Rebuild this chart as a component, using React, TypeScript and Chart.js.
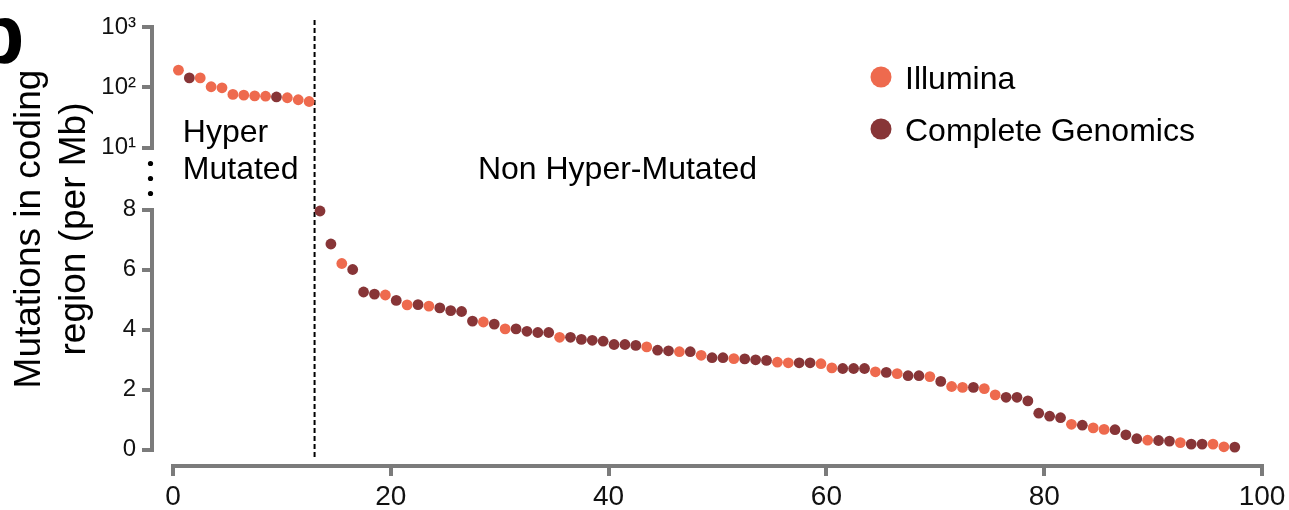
import React, { useEffect, useRef } from 'react';
import { Chart, registerables } from 'chart.js';

Chart.register(...registerables);

const FONT = "'Liberation Sans', Arial, Helvetica, sans-serif";
const ILLUMINA_COLOR = '#EE6A4E';
const CG_COLOR = '#873537';
const AXIS_COLOR = '#7b7b7b';
const TEXT_COLOR = '#111111';

// Series
const seriesLabels = ['Illumina', 'Complete Genomics'];
const platformCodes = ['I', 'C'];

// Hyper-mutated samples (ranks 1–13), plotted on the log segment
const hyperValues = [192, 143, 143, 102, 98, 76, 74, 72, 71, 69, 67, 62, 58];
const hyperPlatforms = ['I', 'C', 'I', 'I', 'I', 'I', 'I', 'I', 'I', 'C', 'I', 'I', 'I'];

// Non hyper-mutated samples (ranks 14–98), plotted on the linear segment
const nonHyperValues = [
  7.95, 6.85, 6.2, 6.0, 5.25, 5.18, 5.15, 4.97, 4.82, 4.83,
  4.78, 4.72, 4.63, 4.6, 4.28, 4.25, 4.18, 4.02, 4.02, 3.94,
  3.9, 3.9, 3.74, 3.74, 3.67, 3.64, 3.61, 3.5, 3.5, 3.47,
  3.42, 3.31, 3.29, 3.26, 3.26, 3.14, 3.06, 3.06, 3.03, 3.02,
  2.99, 2.97, 2.91, 2.89, 2.89, 2.89, 2.86, 2.72, 2.7, 2.7,
  2.7, 2.59, 2.57, 2.53, 2.46, 2.46, 2.43, 2.27, 2.1, 2.07,
  2.07, 2.03, 1.82, 1.74, 1.74, 1.62, 1.21, 1.11, 1.06, 0.84,
  0.81, 0.72, 0.67, 0.66, 0.49, 0.36, 0.31, 0.3, 0.28, 0.23,
  0.18, 0.18, 0.18, 0.09, 0.08,
];
const nonHyperPlatforms = [
  'C', 'C', 'I', 'C', 'C', 'C', 'I', 'C', 'I', 'C',
  'I', 'C', 'C', 'C', 'C', 'I', 'C', 'I', 'C', 'C',
  'C', 'C', 'I', 'C', 'C', 'C', 'C', 'C', 'C', 'C',
  'I', 'C', 'C', 'I', 'C', 'I', 'C', 'C', 'I', 'C',
  'C', 'C', 'I', 'I', 'C', 'C', 'I', 'I', 'C', 'C',
  'C', 'I', 'C', 'I', 'C', 'C', 'I', 'C', 'I', 'I',
  'C', 'I', 'I', 'C', 'C', 'C', 'C', 'C', 'C', 'I',
  'C', 'I', 'I', 'C', 'C', 'C', 'I', 'C', 'C', 'I',
  'C', 'C', 'I', 'I', 'C',
];

// Axes
const xTickValues = [0, 20, 40, 60, 80, 100];
const yLinTickValues = [0, 2, 4, 6, 8];
const yLogTickValues = [10, 100, 1000];
const yLogTickLabels = ['10¹', '10²', '10³'];
const yTitleLines = ['Mutations in coding', 'region (per Mb)'];
const hyperLabelLines = ['Hyper', 'Mutated'];
const nonHyperLabel = 'Non Hyper-Mutated';
const panelLetter = 'b';
const hyperBoundary = 13;

function points(values: number[], platforms: string[], rankOffset: number, code: string) {
  const out: { x: number; y: number }[] = [];
  values.forEach((v, i) => {
    if (platforms[i] === code) out.push({ x: rankOffset + i + 0.5, y: v });
  });
  return out;
}

const colors = [ILLUMINA_COLOR, CG_COLOR];

const overlayPlugin = {
  id: 'overlay',
  beforeDatasetsDraw(chart: any) {
    const ctx = chart.ctx;
    const xs = chart.scales.x;
    const yLog = chart.scales.yLog;
    const yLin = chart.scales.yLin;
    const bx = xs.getPixelForValue(hyperBoundary);
    ctx.save();
    ctx.strokeStyle = '#000';
    ctx.lineWidth = 2;
    ctx.setLineDash([5, 3]);
    ctx.beginPath();
    ctx.moveTo(bx, yLog.top - 7);
    ctx.lineTo(bx, yLin.bottom + 8);
    ctx.stroke();
    ctx.restore();
  },
  afterDraw(chart: any) {
    const ctx = chart.ctx;
    const xs = chart.scales.x;
    const yGap = chart.scales.yGap;
    const area = chart.chartArea;
    ctx.save();
    ctx.fillStyle = '#000';
    // axis break dots
    const cy = (yGap.top + yGap.bottom) / 2;
    [-15, 0, 15].forEach((d) => {
      ctx.beginPath();
      ctx.arc(area.left - 1.5, cy + d, 2.6, 0, Math.PI * 2);
      ctx.fill();
    });
    // region labels
    ctx.font = `32px ${FONT}`;
    ctx.textAlign = 'left';
    ctx.textBaseline = 'alphabetic';
    ctx.fillText(hyperLabelLines[0], xs.getPixelForValue(0.9), 142);
    ctx.fillText(hyperLabelLines[1], xs.getPixelForValue(0.9), 179);
    ctx.fillText(nonHyperLabel, xs.getPixelForValue(28), 179);
    // y title
    ctx.font = `37px ${FONT}`;
    ctx.textAlign = 'center';
    [40, 85].forEach((bx: number, i: number) => {
      ctx.save();
      ctx.translate(bx, 229);
      ctx.rotate(-Math.PI / 2);
      ctx.fillText(yTitleLines[i], 0, 0);
      ctx.restore();
    });
    // legend
    ctx.font = `32px ${FONT}`;
    ctx.textAlign = 'left';
    seriesLabels.forEach((lab, i) => {
      const y = 77 + i * 52;
      ctx.fillStyle = colors[i];
      ctx.beginPath();
      ctx.arc(881, y, 10.5, 0, Math.PI * 2);
      ctx.fill();
      ctx.fillStyle = '#000';
      ctx.fillText(lab, 905, y + 11.5);
    });
    // panel letter (cut off at the left edge)
    ctx.font = `bold 83px ${FONT}`;
    const m = ctx.measureText(panelLetter);
    ctx.fillText(panelLetter, 21.7 - m.actualBoundingBoxRight, 63);
    ctx.restore();
  },
};

const axisStyle = {
  border: { display: true, color: AXIS_COLOR, width: 4 },
  grid: {
    display: true,
    drawOnChartArea: false,
    drawTicks: true,
    tickLength: 10,
    tickColor: AXIS_COLOR,
    tickWidth: 4,
    color: AXIS_COLOR,
    lineWidth: 4,
  },
};

const yTickStyle = {
  padding: 6,
  color: TEXT_COLOR,
  font: { family: FONT, size: 24, lineHeight: 1.2 },
  autoSkip: false,
};

const X_AXIS_HEIGHT = 44;
const Y_AXIS_WIDTH = 50;

export default function App() {
  const ref = useRef<HTMLCanvasElement>(null);
  useEffect(() => {
    const datasets: any[] = [];
    platformCodes.forEach((code, k) => {
      datasets.push({
        label: seriesLabels[k],
        data: points(hyperValues, hyperPlatforms, 0, code),
        xAxisID: 'x',
        yAxisID: 'yLog',
        backgroundColor: colors[k],
        borderWidth: 0,
        pointRadius: 5.4,
        pointHoverRadius: 5.4,
        clip: false,
      });
      datasets.push({
        label: seriesLabels[k],
        data: points(nonHyperValues, nonHyperPlatforms, hyperValues.length, code),
        xAxisID: 'x',
        yAxisID: 'yLin',
        backgroundColor: colors[k],
        borderWidth: 0,
        pointRadius: 5.4,
        pointHoverRadius: 5.4,
        clip: false,
      });
    });
    const fixH = (s: any) => {
      s.height = X_AXIS_HEIGHT;
    };
    const fixW = (s: any) => {
      s.width = Y_AXIS_WIDTH;
    };
    const chart = new Chart(ref.current as HTMLCanvasElement, {
      type: 'scatter',
      data: { datasets },
      plugins: [overlayPlugin],
      options: {
        responsive: false,
        animation: false,
        devicePixelRatio: 1,
        layout: { padding: { top: 27, left: 102, right: 27, bottom: 0 } },
        plugins: { legend: { display: false }, tooltip: { enabled: false } },
        scales: {
          xGap: {
            type: 'linear',
            position: 'bottom',
            stack: 'xs',
            stackWeight: 21,
            weight: 0,
            display: false,
            min: 0,
            max: 1,
            afterFit: fixH,
          },
          x: {
            type: 'linear',
            position: 'bottom',
            stack: 'xs',
            stackWeight: 1089,
            weight: 1,
            min: 0,
            max: 100,
            afterBuildTicks: (s: any) => {
              s.ticks = xTickValues.map((v) => ({ value: v }));
            },
            afterFit: fixH,
            ticks: {
              padding: 0,
              color: TEXT_COLOR,
              font: { family: FONT, size: 28, lineHeight: 1.5 },
              autoSkip: false,
              maxRotation: 0,
              callback: (v: any) => String(v),
            },
            ...axisStyle,
          },
          yLog: {
            type: 'logarithmic',
            position: 'left',
            stack: 'ys',
            stackWeight: 120.5,
            weight: 4,
            min: 10,
            max: 1000,
            afterBuildTicks: (s: any) => {
              s.ticks = yLogTickValues.map((v) => ({ value: v }));
            },
            afterFit: fixW,
            ticks: {
              ...yTickStyle,
              callback: (v: any) => {
                const i = yLogTickValues.indexOf(Number(v));
                return i >= 0 ? yLogTickLabels[i] : '';
              },
            },
            ...axisStyle,
          },
          yGap: {
            type: 'linear',
            position: 'left',
            stack: 'ys',
            stackWeight: 62,
            weight: 3,
            display: false,
            min: 0,
            max: 1,
            afterFit: fixW,
          },
          yLin: {
            type: 'linear',
            position: 'left',
            stack: 'ys',
            stackWeight: 240,
            weight: 2,
            min: 0,
            max: 8,
            afterBuildTicks: (s: any) => {
              s.ticks = yLinTickValues.map((v) => ({ value: v }));
            },
            afterFit: fixW,
            ticks: { ...yTickStyle, callback: (v: any) => String(v) },
            ...axisStyle,
          },
          yGap2: {
            type: 'linear',
            position: 'left',
            stack: 'ys',
            stackWeight: 16.5,
            weight: 1,
            display: false,
            min: 0,
            max: 1,
            afterFit: fixW,
          },
        },
      } as any,
    });
    return () => chart.destroy();
  }, []);
  return (
    <div style={{ position: 'fixed', left: 0, top: 0, width: 1289, height: 510, background: '#fff' }}>
      <canvas ref={ref} width={1289} height={510} style={{ display: 'block' }} />
    </div>
  );
}
